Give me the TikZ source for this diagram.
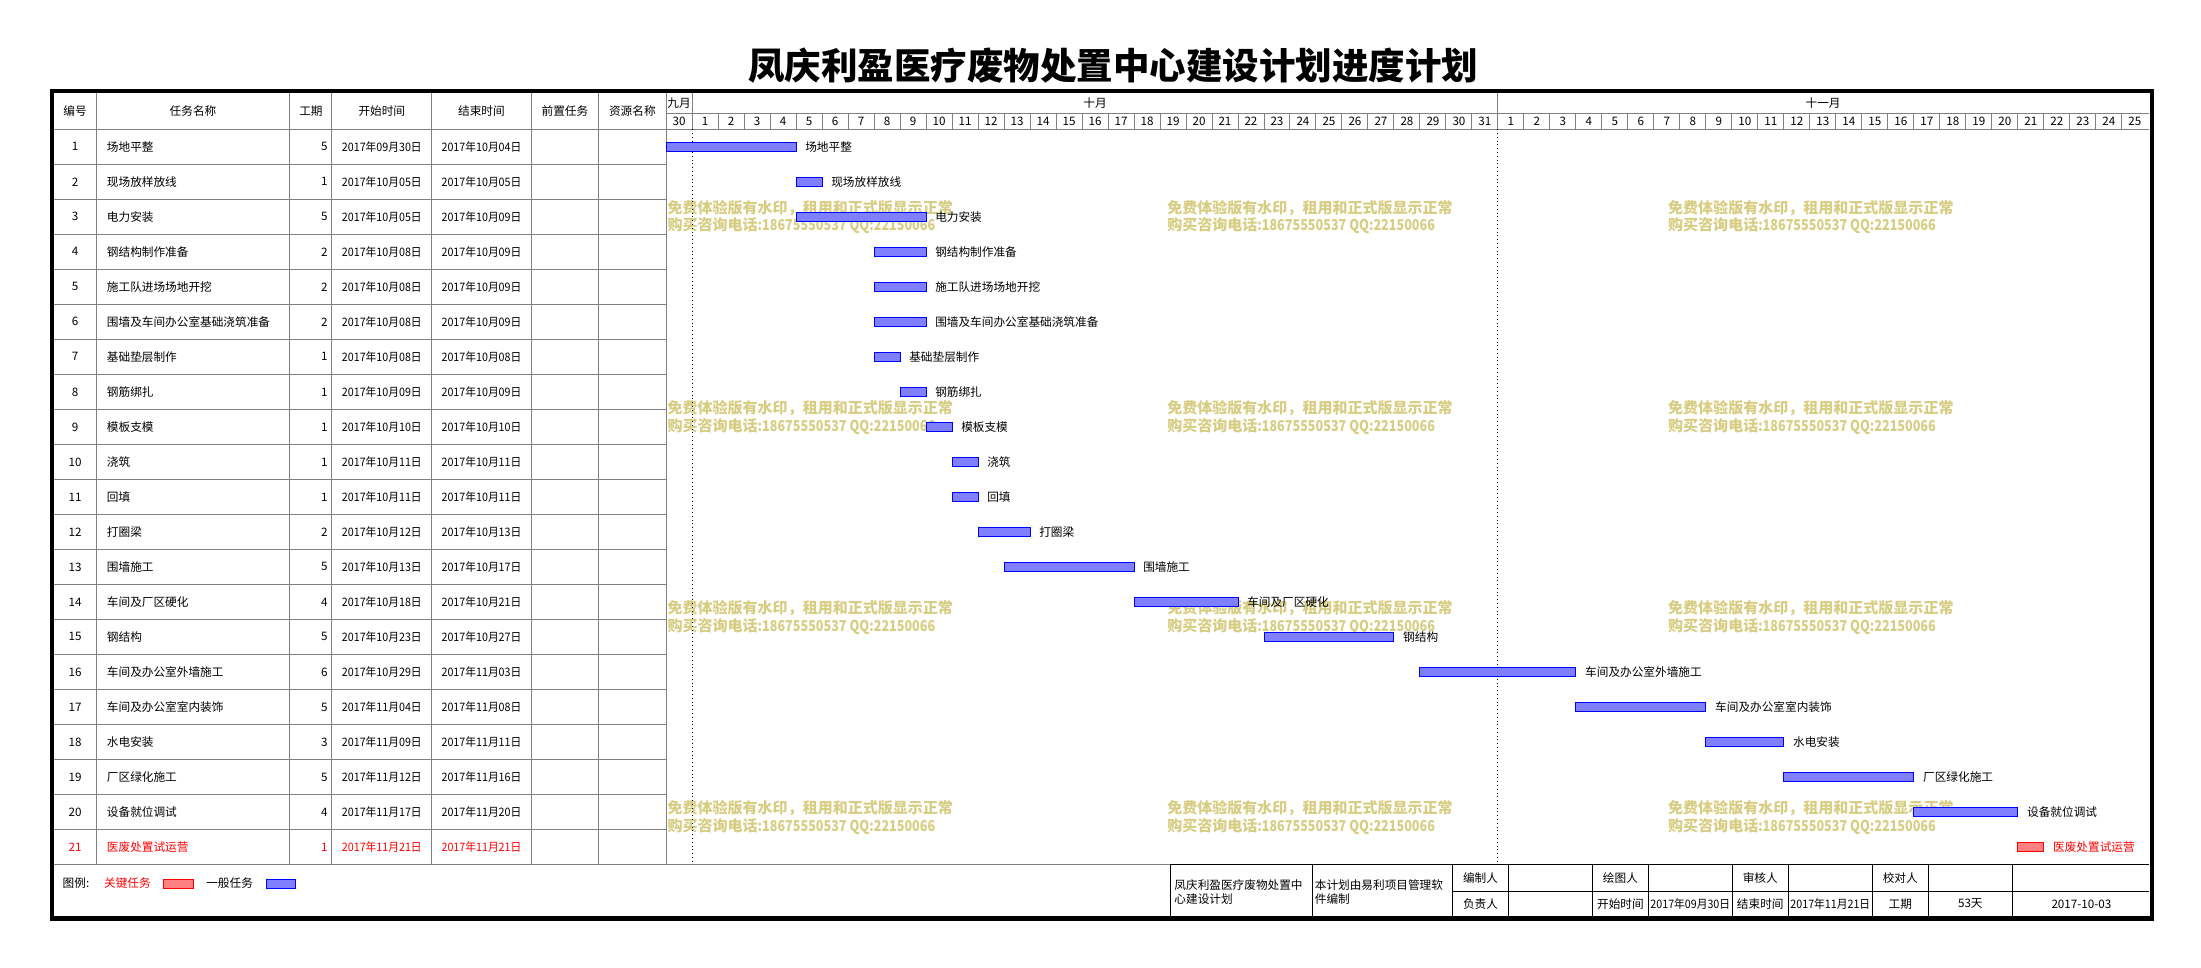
\documentclass[tikz,border=0pt]{standalone}
\usepackage{fontspec}
\setmainfont{Noto Sans CJK SC}
\usepackage{tikz}
\definecolor{wmcolor}{RGB}{215,205,130}
\definecolor{barblue}{RGB}{128,128,255}
\definecolor{barred}{RGB}{255,128,128}
\definecolor{gridgray}{RGB}{128,128,128}

\begin{document}
\begin{tikzpicture}[x=1pt, y=-1pt,
                cell/.style={font=\fontsize{8.3}{10}\selectfont, inner sep=0pt},
                datecell/.style={font=\fontsize{8.3}{10}\selectfont\addfontfeature{FakeStretch=0.92}, inner sep=0pt},
                wmtext/.style={font=\fontsize{10.7}{12.6}\selectfont\bfseries, text=wmcolor, align=left, anchor=west, inner sep=0pt},
                taskbar/.style={draw=blue, fill=barblue, line width=0.7pt},
                keybar/.style={draw=red, fill=barred, line width=0.7pt},
                gridline/.style={draw=gridgray, line width=0.7pt},
                infoline/.style={draw=black, line width=0.7pt},
            ]
            \useasboundingbox (0,0) rectangle (1568,689);

            % Title
            \node[font=\fontsize{26}{30}\selectfont\bfseries] (title) at (793,47) {凤庆利盈医疗废物处置中心建设计划进度计划};

            % Watermarks
            \foreach \wx in {475.4,831.4,1188.2}
            \foreach \wy in {154.7,297.3,439.9,582.5}
                \node[wmtext] (wm-\wx-\wy) at (\wx,\wy) {免费体验版有水印，租用和正式版显示正常\\购买咨询电话{\addfontfeature{FakeStretch=0.84}:18675550537 QQ:22150066}};

            %Lines
            \foreach \k in {1,...,20}
                \draw[gridline] (38,92.1+\k*24.94) -- (474.5,92.1+\k*24.94);
            \draw[gridline] (38,92.1) -- (1531,92.1);
            \draw[gridline] (38,615.84) -- (1531,615.84);
            \foreach \cx in {68.5,206.5,236.5,307.5,378.5,426.5,474.5}
                \draw[gridline] (\cx,66.5) -- (\cx,615.84);
            \draw[gridline] (474.5,80.5) -- (1531,80.5);
            \draw[gridline] (493.02,66.5) -- (493.02,80.5);
            \draw[gridline] (1067.14,66.5) -- (1067.14,80.5);
            \foreach \k in {1,...,56}
                \draw[gridline] (474.5+\k*18.52,80.5) -- (474.5+\k*18.52,92.1);
            \draw[dotted, line width=0.7pt] (493.02,92.1) -- (493.02,615.84);
            \draw[dotted, line width=0.7pt] (1067.14,92.1) -- (1067.14,615.84);

            % Header
            \node[cell] (h_num)    at (53.5,79.3)  {编号};
            \node[cell] (h_name)   at (137.5,79.3) {任务名称};
            \node[cell] (h_dur)    at (221.5,79.3) {工期};
            \node[cell] (h_start)  at (272,79.3)   {开始时间};
            \node[cell] (h_finish) at (343,79.3)   {结束时间};
            \node[cell] (h_pre)    at (402.5,79.3) {前置任务};
            \node[cell] (h_res)    at (450.5,79.3) {资源名称};

            \node[cell] (m_sep) at (483.76,73.5) {九月};
            \node[cell] (m_oct) at (780.1,73.5)  {十月};
            \node[cell] (m_nov) at (1298.8,73.5) {十一月};
            \node[cell] (d_sep_30) at (483.76,86.3) {30};
            \foreach \d in {1,...,31}
                \node[cell] (d_oct_\d) at (483.76+\d*18.52,86.3) {\d};
            \foreach \d in {1,...,25}
                \node[cell] (d_nov_\d) at (483.76+31*18.52+\d*18.52,86.3) {\d};

            % Tasks
            \foreach \n/\name/\dur/\start/\finish/\s/\e in {
                1/场地平整/5/2017年09月30日/2017年10月04日/0/5,
                2/现场放样放线/1/2017年10月05日/2017年10月05日/5/6,
                3/电力安装/5/2017年10月05日/2017年10月09日/5/10,
                4/钢结构制作准备/2/2017年10月08日/2017年10月09日/8/10,
                5/施工队进场场地开挖/2/2017年10月08日/2017年10月09日/8/10,
                6/围墙及车间办公室基础浇筑准备/2/2017年10月08日/2017年10月09日/8/10,
                7/基础垫层制作/1/2017年10月08日/2017年10月08日/8/9,
                8/钢筋绑扎/1/2017年10月09日/2017年10月09日/9/10,
                9/模板支模/1/2017年10月10日/2017年10月10日/10/11,
                10/浇筑/1/2017年10月11日/2017年10月11日/11/12,
                11/回填/1/2017年10月11日/2017年10月11日/11/12,
                12/打圈梁/2/2017年10月12日/2017年10月13日/12/14,
                13/围墙施工/5/2017年10月13日/2017年10月17日/13/18,
                14/车间及厂区硬化/4/2017年10月18日/2017年10月21日/18/22,
                15/钢结构/5/2017年10月23日/2017年10月27日/23/28,
                16/车间及办公室外墙施工/6/2017年10月29日/2017年11月03日/29/35,
                17/车间及办公室室内装饰/5/2017年11月04日/2017年11月08日/35/40,
                18/水电安装/3/2017年11月09日/2017年11月11日/40/43,
                19/厂区绿化施工/5/2017年11月12日/2017年11月16日/43/48,
                20/设备就位调试/4/2017年11月17日/2017年11月20日/48/52}
            {
                \pgfmathsetmacro{\yc}{79.63+\n*24.94}
                \node[cell]              (num_\n)    at (53.5,\yc)  {\n};
                \node[cell, anchor=west] (name_\n)   at (76,\yc)    {\name};
                \node[cell, anchor=east] (dur_\n)    at (233.5,\yc) {\dur};
                \node[datecell]          (start_\n)  at (272,\yc)   {\start};
                \node[datecell]          (finish_\n) at (343,\yc)   {\finish};
                \draw[taskbar] (474.5+\s*18.52,\yc-3.2) rectangle (474.5+\e*18.52,\yc+3.2);
                \node[cell, anchor=west] (label_\n)  at (480.9+\e*18.52,\yc) {\name};
            }
            \node[cell, text=red]              (num_21)    at (53.5,603.37)  {21};
            \node[cell, text=red, anchor=west] (name_21)   at (76,603.37)    {医废处置试运营};
            \node[cell, text=red, anchor=east] (dur_21)    at (233.5,603.37) {1};
            \node[datecell, text=red]          (start_21)  at (272,603.37)   {2017年11月21日};
            \node[datecell, text=red]          (finish_21) at (343,603.37)   {2017年11月21日};
            \draw[keybar] (474.5+52*18.52,600.17) rectangle (474.5+53*18.52,606.57);
            \node[cell, text=red, anchor=west] (label_21)  at (480.9+53*18.52,603.37) {医废处置试运营};

            % Legend
            \node[cell, anchor=west]           (leg_title) at (44.5,629.3) {图例:};
            \node[cell, text=red, anchor=west] (leg_key)   at (74,629.3)   {关键任务};
            \draw[keybar] (116.8,626.2) rectangle (138,632.6);
            \node[cell, anchor=west]           (leg_norm)  at (146.8,629.3) {一般任务};
            \draw[taskbar] (189.5,626.2) rectangle (210.6,632.6);

            % Info block
            \foreach \cx in {834,935,1035,1074.5,1134.5,1174.3,1234,1274,1333.8,1373.7,1433.6}
                \draw[infoline] (\cx,615.84) -- (\cx,653);
            \draw[infoline] (834,615.84) -- (1531,615.84);
            \draw[infoline] (1035,635) -- (1531,635);
            \node[cell, anchor=north west, align=left] (info_name) at (836.5,626.4) {凤庆利盈医疗废物处置中\\心建设计划};
            \node[cell, anchor=north west, align=left] (info_soft) at (936.5,626.4) {本计划由易利项目管理软\\件编制};
            \node[cell] (info_editor)   at (1054.75,625.7) {编制人};
            \node[cell] (info_drawer)   at (1154.4,625.7)  {绘图人};
            \node[cell] (info_checker)  at (1254,625.7)    {审核人};
            \node[cell] (info_proof)    at (1353.75,625.7) {校对人};
            \node[cell] (info_lead)     at (1054.75,644)   {负责人};
            \node[cell] (info_start)    at (1154.4,644)    {开始时间};
            \node[datecell] (info_startval) at (1204.15,644) {2017年09月30日};
            \node[cell] (info_end)      at (1254,644)      {结束时间};
            \node[datecell] (info_endval)   at (1303.9,644)  {2017年11月21日};
            \node[cell] (info_dur)      at (1353.75,644)   {工期};
            \node[cell] (info_durval)   at (1403.65,644)   {53天};
            \node[cell] (info_date)     at (1482.8,644)    {2017-10-03};

            % Frame
            \draw[line width=3pt] (36.8,65) rectangle (1533,654.3);
        \end{tikzpicture}
\end{document}
